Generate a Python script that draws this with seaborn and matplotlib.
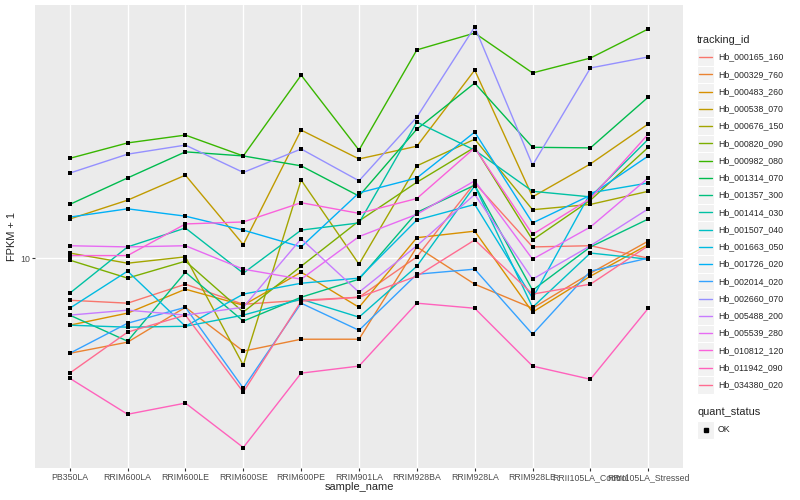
import seaborn as sns
import matplotlib.pyplot as plt
import matplotlib.ticker as mticker
from matplotlib.patches import Rectangle
from matplotlib.lines import Line2D
import pandas as pd

sns.set_style("darkgrid")
plt.rcParams['font.family'] = ['Liberation Sans', 'DejaVu Sans']

samples = ['PB350LA', 'RRIM600LA', 'RRIM600LE', 'RRIM600SE', 'RRIM600PE', 'RRIM901LA',
           'RRIM928BA', 'RRIM928LA', 'RRIM928LE', 'RRII105LA_Control', 'RRII105LA_Stressed']

tracking_ids = ['Hb_000165_160', 'Hb_000329_760', 'Hb_000483_260', 'Hb_000538_070',
                'Hb_000676_150', 'Hb_000820_090', 'Hb_000982_080', 'Hb_001314_070',
                'Hb_001357_300', 'Hb_001414_030', 'Hb_001507_040', 'Hb_001663_050',
                'Hb_001726_020', 'Hb_002014_020', 'Hb_002660_070', 'Hb_005488_200',
                'Hb_005539_280', 'Hb_010812_120', 'Hb_011942_090', 'Hb_034380_020']

# FPKM + 1 per sample, in the order of `samples`
hb_000165_160 = [7.24, 7.08, 8.19, 7.02, 7.24, 7.41, 10.1, 17.8, 10.9, 11.0, 10.0]
hb_000329_760 = [4.82, 5.25, 6.86, 4.90, 5.37, 5.37, 10.9, 8.19, 6.81, 8.91, 11.4]
hb_000483_260 = [5.98, 6.56, 7.88, 6.97, 8.98, 6.86, 11.7, 12.3, 6.61, 8.71, 11.1]
hb_000538_070 = [13.5, 15.6, 18.9, 11.1, 26.7, 21.4, 23.6, 42.3, 16.0, 20.6, 28.0]
hb_000676_150 = [10.4, 9.62, 10.1, 4.40, 18.2, 9.55, 20.3, 24.9, 14.5, 15.1, 16.7]
hb_000820_090 = [9.85, 8.58, 9.77, 6.61, 9.40, 13.3, 17.9, 23.4, 11.5, 15.6, 23.4]
hb_000982_080 = [21.5, 24.2, 25.7, 21.9, 40.7, 22.9, 49.4, 56.2, 41.4, 46.4, 58.0]
hb_001314_070 = [15.1, 18.5, 22.6, 21.9, 20.3, 16.1, 26.9, 38.3, 23.4, 23.3, 34.4]
hb_001357_300 = [6.46, 5.29, 8.98, 6.17, 7.41, 8.51, 14.2, 17.5, 7.82, 10.9, 13.5]
hb_001414_030 = [7.64, 10.9, 12.6, 8.91, 12.4, 13.1, 28.4, 22.9, 16.7, 16.0, 24.9]
hb_001507_040 = [5.98, 5.89, 5.93, 6.46, 7.30, 6.36, 9.40, 17.4, 6.86, 10.4, 9.92]
hb_001663_050 = [6.81, 9.05, 5.93, 7.59, 8.25, 8.58, 13.4, 15.1, 7.36, 16.5, 17.8]
hb_001726_020 = [13.7, 14.6, 13.8, 12.4, 10.9, 16.5, 18.5, 26.3, 13.1, 16.2, 21.9]
hb_002014_020 = [4.82, 6.07, 6.86, 3.69, 7.08, 5.75, 8.84, 9.19, 5.58, 9.05, 10.0]
hb_002660_070 = [19.2, 22.2, 23.8, 19.3, 23.1, 18.1, 29.5, 58.9, 20.4, 43.0, 46.8]
hb_005488_200 = [6.46, 6.71, 6.46, 6.86, 11.6, 7.70, 11.0, 16.3, 8.51, 11.0, 14.6]
hb_005539_280 = [11.0, 10.9, 11.0, 9.19, 8.51, 11.8, 14.0, 18.1, 9.92, 12.7, 18.5]
hb_010812_120 = [10.2, 10.2, 13.0, 13.2, 15.3, 14.1, 15.8, 23.3, 12.0, 15.8, 25.9]
hb_011942_090 = [3.98, 3.02, 3.29, 2.34, 4.14, 4.37, 7.08, 6.81, 4.37, 3.95, 6.81]
hb_034380_020 = [4.14, 5.67, 6.46, 3.58, 7.19, 7.41, 8.71, 11.5, 7.59, 8.19, 11.0]

series = [hb_000165_160, hb_000329_760, hb_000483_260, hb_000538_070, hb_000676_150,
          hb_000820_090, hb_000982_080, hb_001314_070, hb_001357_300, hb_001414_030,
          hb_001507_040, hb_001663_050, hb_001726_020, hb_002014_020, hb_002660_070,
          hb_005488_200, hb_005539_280, hb_010812_120, hb_011942_090, hb_034380_020]

colors = ['#F8766D', '#EA8331', '#D89000', '#C09B00', '#A3A500', '#7CAE00', '#39B600',
          '#00BB4E', '#00BF7D', '#00C1A3', '#00BFC4', '#00BAE0', '#00B0F6', '#35A2FF',
          '#9590FF', '#C77CFF', '#E76BF3', '#FA62DB', '#FF62BC', '#FF6C91']

rows = []
for tid, vals in zip(tracking_ids, series):
    for s, v in zip(samples, vals):
        rows.append({'tracking_id': tid, 'sample_name': s, 'fpkm': v, 'quant_status': 'OK'})
df = pd.DataFrame(rows)
df['x'] = df['sample_name'].map({s: i for i, s in enumerate(samples)})

fig = plt.figure(figsize=(8, 5), dpi=100)
ax = fig.add_axes([35 / 800, 32 / 500, 648 / 800, 463 / 500])
ax.set_facecolor('#EBEBEB')

sns.lineplot(data=df, x='x', y='fpkm', hue='tracking_id', palette=colors,
             hue_order=tracking_ids, sort=False, estimator=None, lw=1.0,
             legend=False, ax=ax, zorder=3)
sns.scatterplot(data=df, x='x', y='fpkm', color='black', marker='s', s=10,
                linewidth=0, legend=False, ax=ax, zorder=4)

ax.set_yscale('log')
ax.set_ylim(2.0, 69.7)
ax.set_xlim(-0.6, len(samples) - 1 + 0.6)
ax.yaxis.set_major_locator(mticker.FixedLocator([10]))
ax.yaxis.set_major_formatter(mticker.FixedFormatter(['10']))
ax.yaxis.set_minor_locator(mticker.NullLocator())
ax.set_xticks(range(len(samples)))
ax.set_xticklabels(samples)
ax.grid(True, which='major', color='white', lw=1.0)
ax.set_axisbelow(True)
for sp in ax.spines.values():
    sp.set_visible(False)
ax.tick_params(axis='both', length=2, width=0.8, color='#333333', labelcolor='#4D4D4D',
               labelsize=6.3, pad=1.5, left=True, bottom=True)
ax.set_xlabel('sample_name', fontsize=7.9)
ax.set_ylabel('FPKM + 1', fontsize=7.9)
ax.xaxis.set_label_coords(0.5, -0.031)
ax.yaxis.set_label_coords(-0.028, 0.5)

# legend drawn by hand in figure pixels, ggplot style
def fx(px):
    return px / 800

def fy(py):
    return 1 - py / 500

fig.text(fx(697), fy(40), 'tracking_id', fontsize=7.9, va='center', ha='left')
step = 17.26
for i, (tid, c) in enumerate(zip(tracking_ids, colors)):
    yc = 57 + i * step
    fig.patches.append(Rectangle((fx(697), fy(yc + step / 2)), 17 / 800, step / 500,
                                 transform=fig.transFigure, facecolor='#F2F2F2',
                                 edgecolor='white', lw=0.8))
    fig.lines.append(Line2D([fx(699), fx(712)], [fy(yc), fy(yc)], color=c, lw=1.0,
                            transform=fig.transFigure))
    fig.text(fx(718), fy(yc), tid, fontsize=6.3, va='center', ha='left')

fig.text(fx(697), fy(412), 'quant_status', fontsize=7.9, va='center', ha='left')
fig.patches.append(Rectangle((fx(697), fy(430 + step / 2)), 17 / 800, step / 500,
                             transform=fig.transFigure, facecolor='#F2F2F2',
                             edgecolor='white', lw=0.8))
fig.lines.append(Line2D([fx(705.5)], [fy(430)], marker='s', ms=3, color='black',
                        lw=0, transform=fig.transFigure))
fig.text(fx(718), fy(430), 'OK', fontsize=6.3, va='center', ha='left')

fig.savefig('out.png', dpi=100, facecolor='white')
